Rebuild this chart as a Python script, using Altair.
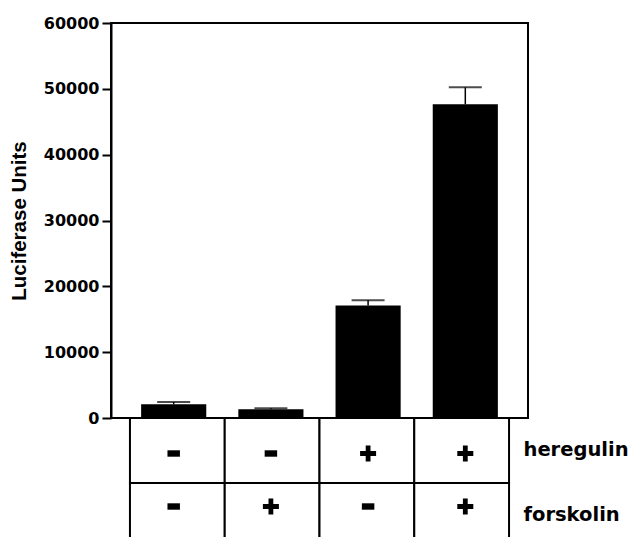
import altair as alt
import pandas as pd

# ---- data ----
conditions = ["HRG- FSK-", "HRG- FSK+", "HRG+ FSK-", "HRG+ FSK+"]
heregulin = ["-", "-", "+", "+"]
forskolin = ["-", "+", "-", "+"]
luciferase = [2080, 1320, 17100, 47650]
error = [350, 150, 800, 2580]
y_ticks = [0, 10000, 20000, 30000, 40000, 50000, 60000]
row_names = ["heregulin", "forskolin"]

bars_df = pd.DataFrame({"cond": conditions, "value": luciferase, "err": error})
bars_df["upper"] = bars_df["value"] + bars_df["err"]

cells = []
for c, h, f in zip(conditions, heregulin, forskolin):
    cells.append({"cond": c, "row": "heregulin", "sign": h})
    cells.append({"cond": c, "row": "forskolin", "sign": f})
cells_df = pd.DataFrame(cells)

plus_path = "M-0.3,-1H0.3V-0.3H1V0.3H0.3V1H-0.3V0.3H-1V-0.3H-0.3Z"
minus_path = "M-0.78,-0.4H0.78V0.4H-0.78Z"

bar_x_scale = alt.Scale(type="band", paddingInner=0.33, paddingOuter=0.31)

yaxis = alt.Axis(
    values=y_ticks, format="d", grid=False,
    domainColor="black", domainWidth=2,
    tickColor="black", tickWidth=2, tickSize=9,
    labelFont="DejaVu Sans", labelFontWeight="bold", labelFontSize=16,
    labelColor="black", labelPadding=3,
    title="Luciferase Units", titleFont="Liberation Sans", titleFontSize=20.5,
    titleFontWeight="bold", titleColor="black", titlePadding=14,
)

base = alt.Chart(bars_df).encode(
    x=alt.X("cond:N", sort=conditions, scale=bar_x_scale, axis=None)
)
bars = base.mark_bar(color="black").encode(
    y=alt.Y("value:Q", scale=alt.Scale(domain=[0, 60000], nice=False), axis=yaxis)
)
stem = base.mark_rule(color="black", strokeWidth=1.5).encode(
    y="value:Q", y2="upper:Q"
)
cap = base.mark_tick(color="black", size=33, thickness=2).encode(y="upper:Q")

top = alt.layer(bars, stem, cap).properties(
    width=417, height=395,
    view=alt.ViewBackground(stroke="black", strokeWidth=2),
)

row_axis = alt.Axis(
    orient="right", title=None, ticks=False, domain=False,
    labelFont="DejaVu Sans", labelFontSize=19.5, labelFontWeight="bold",
    labelColor="black", labelPadding=-5, labelOffset=-1,
)
ry = alt.Y("row:N", sort=row_names,
           scale=alt.Scale(type="band", paddingInner=0, paddingOuter=0),
           axis=row_axis)

table_x = alt.X("cond:N", sort=conditions,
                scale=alt.Scale(type="band", paddingInner=0, paddingOuter=0.2),
                axis=None)
sign_x = alt.X("cond:N", sort=conditions, scale=bar_x_scale, axis=None)
sign_shape = alt.Shape("sign:N", scale=alt.Scale(domain=["+", "-"], range=[plus_path, minus_path]), legend=None)

cells_layer = alt.Chart(cells_df).mark_rect(
    fill="white", stroke="black", strokeWidth=2
).encode(x=table_x, y=ry)

signs_h = alt.Chart(cells_df).transform_filter(alt.datum.row == "heregulin").mark_point(
    filled=True, color="black", size=256, opacity=1, strokeWidth=0, yOffset=3
).encode(x=sign_x, y=ry, shape=sign_shape)

signs_f = alt.Chart(cells_df).transform_filter(alt.datum.row == "forskolin").mark_point(
    filled=True, color="black", size=256, opacity=1, strokeWidth=0, yOffset=-9
).encode(x=sign_x, y=ry, shape=sign_shape)

bottom = alt.layer(cells_layer, signs_h, signs_f).resolve_scale(x="independent").properties(
    width=417, height=130
)

chart = alt.vconcat(top, bottom, spacing=0, bounds="flush").properties(
    padding={"left": 0, "top": 6, "right": 0, "bottom": 0}
).configure_view(stroke="transparent")

chart.save("out.html", embed_options={"renderer": "svg", "actions": False})
